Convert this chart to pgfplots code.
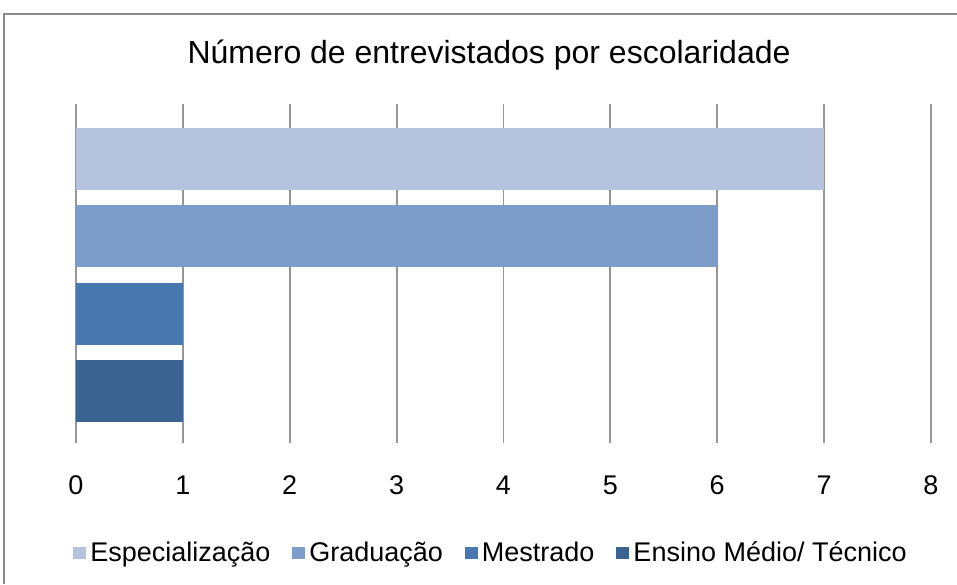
\documentclass[border=0pt]{standalone}
\usepackage{fontspec}
\setmainfont{Liberation Sans}
\usepackage{pgfplots}
\pgfplotsset{compat=1.18}
\definecolor{espec}{HTML}{B5C3DE}
\definecolor{grad}{HTML}{7E9CC8}
\definecolor{mest}{HTML}{4878AE}
\definecolor{ensino}{HTML}{3B6392}
\definecolor{gridgr}{HTML}{959595}
\definecolor{framegr}{HTML}{8A8A8A}
\begin{document}
\begin{tikzpicture}
\useasboundingbox (0,0) rectangle (478.5pt,-292pt);
% chart frame (right and bottom edges fall outside the picture)
\draw[line width=1pt, framegr] (2pt,-292pt) -- (2pt,-7pt) -- (478.5pt,-7pt);
\node[font=\fontsize{16}{18}\selectfont] at (244.5pt,-27.5pt)
  {Número de entrevistados por escolaridade};
\begin{axis}[
  at={(38pt,-221.5pt)}, anchor=south west,
  scale only axis, width=427.5pt, height=169.5pt,
  xmin=0, xmax=8, ymin=-0.67, ymax=3.71,
  xbar, bar width=31pt, bar shift=0pt,
  xtick={0,...,8}, ymajorticks=false,
  xmajorgrids, grid style={gridgr, line width=0.9pt},
  axis line style={draw=none}, major tick length=0pt,
  /pgf/number format/assume math mode=true,
  xticklabel style={font=\fontsize{13.5}{15}\selectfont, yshift=-13pt},
  legend columns=4,
  legend style={at={(0.4865,-0.3245)}, anchor=center, draw=none,
    font=\fontsize{13.5}{15}\selectfont,
    /tikz/every even column/.append style={column sep=9pt}},
  legend image code/.code={\fill[#1] (0pt,-3.2pt) rectangle (6.5pt,3.2pt);},
]
\addplot[fill=espec, draw=none] coordinates {(7,3)};
\addplot[fill=grad, draw=none] coordinates {(6,2)};
\addplot[fill=mest, draw=none] coordinates {(1,1)};
\addplot[fill=ensino, draw=none] coordinates {(1,0)};
\legend{Especialização, Graduação, Mestrado, Ensino Médio/ Técnico}
\end{axis}
\end{tikzpicture}
\end{document}
